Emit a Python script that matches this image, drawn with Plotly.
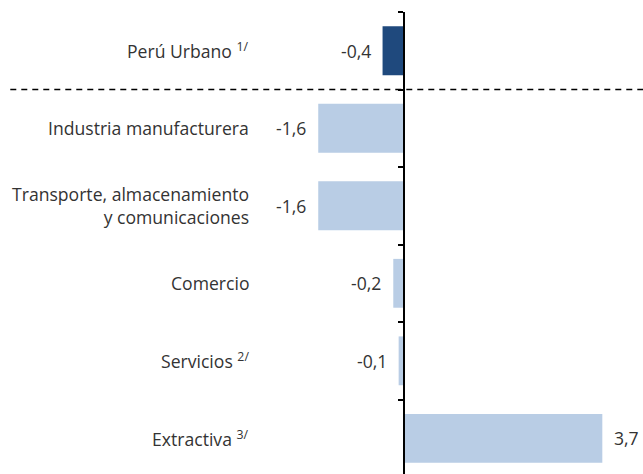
import plotly.graph_objects as go

# data, top to bottom
categories = [
    "Perú Urbano <sup>1/</sup>",
    "Industria manufacturera",
    "Transporte, almacenamiento<br>y comunicaciones",
    "Comercio",
    "Servicios <sup>2/</sup>",
    "Extractiva <sup>3/</sup>",
]
values = [-0.4, -1.6, -1.6, -0.2, -0.1, 3.7]

DARK = "#1F497D"
LIGHT = "#B9CDE5"
INK = "#333333"
FONT = "Open Sans, sans-serif"
FS = 17.6

W, H = 643, 474
ZERO_PX = 404
PX_PER_UNIT = 53.6
xmin = -ZERO_PX / PX_PER_UNIT
xmax = (W - ZERO_PX) / PX_PER_UNIT

ypos = list(range(len(categories)))
colors = [DARK] + [LIGHT] * (len(values) - 1)

fig = go.Figure(go.Bar(
    x=values, y=ypos, orientation="h", width=0.63,
    marker=dict(color=colors, line=dict(width=0)),
    hoverinfo="skip"))

# category labels
for i, c in enumerate(categories):
    fig.add_annotation(x=-2.85, y=i, xref="x", yref="y", text=c,
                       showarrow=False, xanchor="right", yanchor="middle",
                       align="right", font=dict(size=FS, color=INK))

# value labels
for i, v in enumerate(values):
    txt = f"{v:.1f}".replace(".", ",")
    fig.add_annotation(x=v, y=i, xref="x", yref="y", text=txt,
                       showarrow=False,
                       xanchor="right" if v < 0 else "left",
                       xshift=-10 if v < 0 else 10, yanchor="middle",
                       font=dict(size=FS, color=INK))

# dashed separator below Perú Urbano
fig.add_shape(type="line", xref="paper", yref="y", x0=0.016, x1=1,
              y0=0.5, y1=0.5, line=dict(color="black", width=1.6, dash="6px,5px"))

fig.update_layout(
    width=W, height=H, margin=dict(l=0, r=0, t=12, b=0),
    paper_bgcolor="white", plot_bgcolor="white",
    font=dict(family=FONT, color=INK), showlegend=False,
    xaxis=dict(range=[xmin, xmax], visible=False, fixedrange=True),
    yaxis=dict(range=[5.46, -0.5], anchor="free", position=ZERO_PX / W,
               showline=True, linecolor="black", linewidth=1.5,
               ticks="outside", ticklen=5, tickwidth=1.5, tickcolor="black",
               tickvals=[-0.5, 0.5, 1.5, 2.5, 3.5, 4.5],
               showticklabels=False, showgrid=False, zeroline=False,
               fixedrange=True),
)

fig.write_html("out.html", config={"displayModeBar": False},
               post_script="document.body.style.margin='0';")
